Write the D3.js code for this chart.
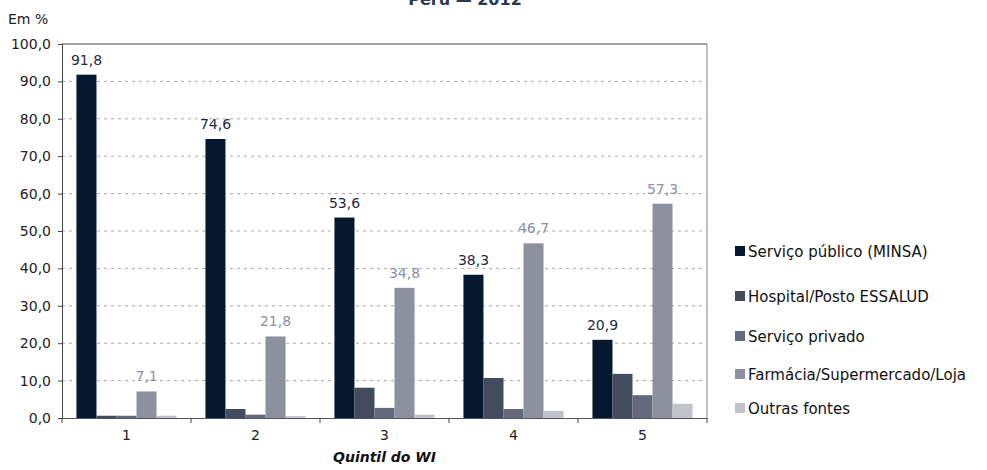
<!DOCTYPE html>
<html lang="pt">
<head>
  <meta charset="UTF-8">
  <title>Peru — 2012</title>
  <style>
    html, body { margin: 0; background: #fff; }
    svg { display: block; }
  </style>
</head>
<body>
  <script src="https://d3js.org/d3.v7.min.js"></script>
  <script>
    const quintiles = ["1", "2", "3", "4", "5"];
    const seriesNames = [
      "Serviço público (MINSA)",
      "Hospital/Posto ESSALUD",
      "Serviço privado",
      "Farmácia/Supermercado/Loja",
      "Outras fontes"
    ];
    const minsa    = [91.8, 74.6, 53.6, 38.3, 20.9];
    const essalud  = [0.6, 2.4, 8.1, 10.7, 11.8];
    const privado  = [0.6, 0.9, 2.7, 2.4, 6.1];
    const farmacia = [7.1, 21.8, 34.8, 46.7, 57.3];
    const outras   = [0.6, 0.5, 0.9, 1.9, 3.8];
    const yTicks = [0, 10, 20, 30, 40, 50, 60, 70, 80, 90, 100];

    const colors = ["#06182f", "#434b5e", "#646a7b", "#8d909e", "#c1c3cb"];
    const labelColors = ["#1c2a45", null, null, "#8d909e", null];
    const allSeries = [minsa, essalud, privado, farmacia, outras];

    const W = 987, H = 470;
    const margin = { left: 62, right: 280, top: 44, bottom: 52 };
    const fontFam = "'DejaVu Sans', Verdana, sans-serif";

    const svg = d3.select("body").append("svg")
      .attr("width", W).attr("height", H)
      .style("font-family", fontFam);

    const x = d3.scaleBand().domain(quintiles)
      .range([margin.left, W - margin.right]).paddingInner(0.224).paddingOuter(0.112);
    const xs = d3.scaleBand().domain(seriesNames).range([0, x.bandwidth()]);
    const y = d3.scaleLinear().domain([0, 100]).range([H - margin.bottom, margin.top]);
    const fmt = v => d3.format(".1f")(v).replace(".", ",");

    // title (cropped at the top, as in the source)
    svg.append("text")
      .attr("x", 465).attr("y", 5)
      .attr("text-anchor", "middle")
      .attr("font-size", 16).attr("font-weight", "bold")
      .attr("fill", "#2a3850")
      .text("Peru — 2012");

    svg.append("text")
      .attr("x", 8).attr("y", 24)
      .attr("font-size", 14).attr("fill", "#222")
      .text("Em %");

    // gridlines
    svg.append("g").selectAll("line")
      .data(yTicks.filter(d => d > 0 && d < 100))
      .join("line")
      .attr("x1", margin.left).attr("x2", W - margin.right)
      .attr("y1", d => y(d)).attr("y2", d => y(d))
      .attr("stroke", "#a8a8a8").attr("stroke-dasharray", "3,4");

    // frame top / right
    svg.append("line")
      .attr("x1", margin.left).attr("x2", W - margin.right)
      .attr("y1", y(100)).attr("y2", y(100))
      .attr("stroke", "#444");
    svg.append("line")
      .attr("x1", W - margin.right).attr("x2", W - margin.right)
      .attr("y1", y(100)).attr("y2", y(0))
      .attr("stroke", "#888");

    // y axis
    const yAxis = svg.append("g")
      .attr("transform", `translate(${margin.left},0)`)
      .call(d3.axisLeft(y).tickValues(yTicks).tickFormat(fmt).tickSize(4).tickPadding(7));
    yAxis.select(".domain").attr("stroke", "#444");
    yAxis.selectAll(".tick line").attr("stroke", "#444");
    yAxis.selectAll("text").attr("font-size", 14).attr("fill", "#222")
      .attr("font-family", fontFam);

    // bars
    const groups = svg.append("g").selectAll("g")
      .data(quintiles)
      .join("g")
      .attr("transform", d => `translate(${x(d)},0)`);

    groups.selectAll("rect")
      .data((q, i) => allSeries.map((s, k) => ({ k, v: s[i] })))
      .join("rect")
      .attr("x", d => xs(seriesNames[d.k]))
      .attr("width", xs.bandwidth())
      .attr("y", d => y(d.v))
      .attr("height", d => y(0) - y(d.v))
      .attr("fill", d => colors[d.k]);

    groups.selectAll("text")
      .data((q, i) => allSeries.map((s, k) => ({ k, v: s[i] })).filter(d => labelColors[d.k]))
      .join("text")
      .attr("x", d => xs(seriesNames[d.k]) + xs.bandwidth() / 2)
      .attr("y", d => y(d.v) - 10)
      .attr("text-anchor", "middle")
      .attr("font-size", 14)
      .attr("fill", d => labelColors[d.k])
      .text(d => fmt(d.v));

    // x axis
    const xAxis = svg.append("g")
      .attr("transform", `translate(0,${y(0)})`)
      .call(d3.axisBottom(x).tickSize(0).tickPadding(12));
    xAxis.select(".domain").attr("stroke", "#555");
    xAxis.selectAll("text").attr("font-size", 14).attr("fill", "#222")
      .attr("font-family", fontFam);
    const step = x.step();
    svg.append("g").selectAll("line")
      .data(d3.range(quintiles.length + 1))
      .join("line")
      .attr("x1", i => margin.left + i * step).attr("x2", i => margin.left + i * step)
      .attr("y1", y(0)).attr("y2", y(0) + 5)
      .attr("stroke", "#444");

    svg.append("text")
      .attr("x", (margin.left + W - margin.right) / 2).attr("y", 462)
      .attr("text-anchor", "middle")
      .attr("font-size", 14).attr("font-weight", "bold").attr("font-style", "italic")
      .attr("fill", "#111")
      .text("Quintil do WI");

    // legend
    const legendY = [252, 297, 337, 375, 409];
    const legend = svg.append("g").selectAll("g")
      .data(seriesNames)
      .join("g")
      .attr("transform", (d, i) => `translate(735,${legendY[i]})`);
    legend.append("rect")
      .attr("x", 0).attr("y", -6).attr("width", 10).attr("height", 10)
      .attr("fill", (d, i) => colors[i]);
    legend.append("text")
      .attr("x", 13).attr("y", 5)
      .attr("font-size", 15).attr("fill", "#111")
      .text(d => d);
  </script>
</body>
</html>
